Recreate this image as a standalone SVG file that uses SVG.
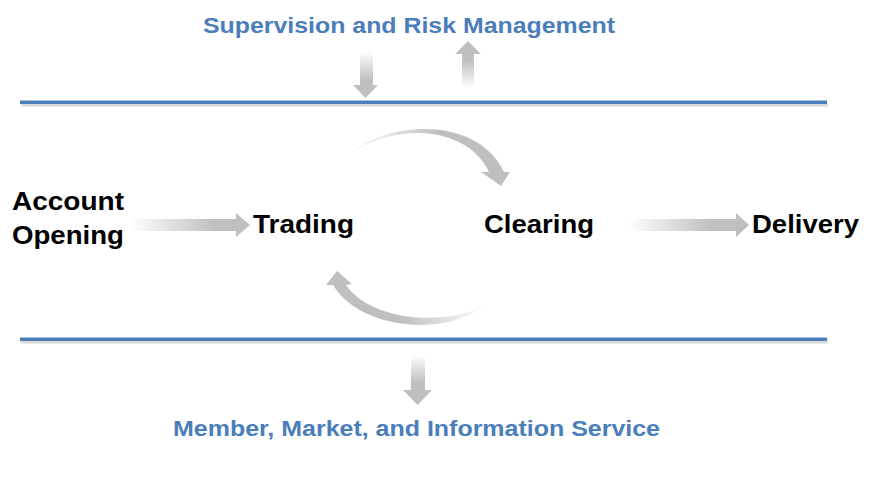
<svg xmlns="http://www.w3.org/2000/svg" width="870" height="479" viewBox="0 0 870 479">
<style>
.lbl{font-family:"Liberation Sans",Arial,sans-serif;font-weight:bold;font-size:25px;fill:#000}
.blue{font-family:"Liberation Sans",Arial,sans-serif;font-weight:bold;font-size:22px;fill:#4a7ebb}
</style>
<defs>
<linearGradient id="gA" gradientUnits="userSpaceOnUse" x1="130" y1="0" x2="215" y2="0"><stop offset="0" stop-color="#fff"/><stop offset="1" stop-color="#bfbfbf"/></linearGradient>
<linearGradient id="gD" gradientUnits="userSpaceOnUse" x1="628" y1="0" x2="712" y2="0"><stop offset="0" stop-color="#fff"/><stop offset="1" stop-color="#bfbfbf"/></linearGradient>
<linearGradient id="gDown1" gradientUnits="userSpaceOnUse" x1="0" y1="52" x2="0" y2="80"><stop offset="0" stop-color="#fff"/><stop offset="1" stop-color="#bfbfbf"/></linearGradient>
<linearGradient id="gUp" gradientUnits="userSpaceOnUse" x1="0" y1="88" x2="0" y2="60"><stop offset="0" stop-color="#fff"/><stop offset="1" stop-color="#bfbfbf"/></linearGradient>
<linearGradient id="gDown2" gradientUnits="userSpaceOnUse" x1="0" y1="355" x2="0" y2="383"><stop offset="0" stop-color="#fff"/><stop offset="1" stop-color="#bfbfbf"/></linearGradient>
<linearGradient id="gTop" gradientUnits="userSpaceOnUse" x1="350" y1="0" x2="440" y2="0"><stop offset="0" stop-color="#fff"/><stop offset="1" stop-color="#bfbfbf"/></linearGradient>
<linearGradient id="gBot" gradientUnits="userSpaceOnUse" x1="487" y1="0" x2="400" y2="0"><stop offset="0" stop-color="#fff"/><stop offset="1" stop-color="#bfbfbf"/></linearGradient>
</defs>
<g id="lines">
<rect x="21" y="103.5" width="807" height="3" fill="#d9d9d9"/>
<rect x="20" y="100.5" width="807" height="3.5" fill="#4a7ebb"/>
<rect x="21" y="340.5" width="807" height="3" fill="#d9d9d9"/>
<rect x="20" y="337.5" width="807" height="3.5" fill="#4a7ebb"/>
</g>
<g id="title-top"><text class="blue" x="203" y="33" textLength="412" lengthAdjust="spacingAndGlyphs">Supervision and Risk Management</text></g>
<g id="title-bottom"><text class="blue" x="173" y="436" textLength="487" lengthAdjust="spacingAndGlyphs">Member, Market, and Information Service</text></g>
<g id="account"><text class="lbl" x="12" y="210" textLength="112" lengthAdjust="spacingAndGlyphs">Account</text><text class="lbl" x="12" y="244" textLength="112" lengthAdjust="spacingAndGlyphs">Opening</text></g>
<g id="trading"><text class="lbl" x="253" y="233" textLength="101" lengthAdjust="spacingAndGlyphs">Trading</text></g>
<g id="clearing"><text class="lbl" x="484" y="233" textLength="110" lengthAdjust="spacingAndGlyphs">Clearing</text></g>
<g id="delivery"><text class="lbl" x="752" y="233" textLength="107" lengthAdjust="spacingAndGlyphs">Delivery</text></g>
<g id="connectors">
<polygon fill="url(#gA)" points="130,219 236,219 236,213 250,225 236,237 236,231 130,231"/>
<polygon fill="url(#gD)" points="628,219 736,219 736,213 749,225 736,237 736,231 628,231"/>
<polygon fill="url(#gDown1)" points="360,52 373,52 373,85 378,85 365.5,98 353,85 360,85"/>
<polygon fill="url(#gUp)" points="462,88 474,88 474,54 481,54 468,41 455,54 462,54"/>
<polygon fill="url(#gDown2)" points="411,355 425,355 425,390 432,390 417.5,405 403,390 411,390"/>
<path d="M350,153 C390,120 478,116 504,172 L510,172 L501,186 L481,172 L489,172 C466,124 392,123 350,155 Z" fill="url(#gTop)"/>
<path d="M486,303 C455,336 362,333 333,285 L326,285 L337,271 L352,284 L346,285 C373,324 455,326 486,303 Z" fill="url(#gBot)"/>
</g>
</svg>
